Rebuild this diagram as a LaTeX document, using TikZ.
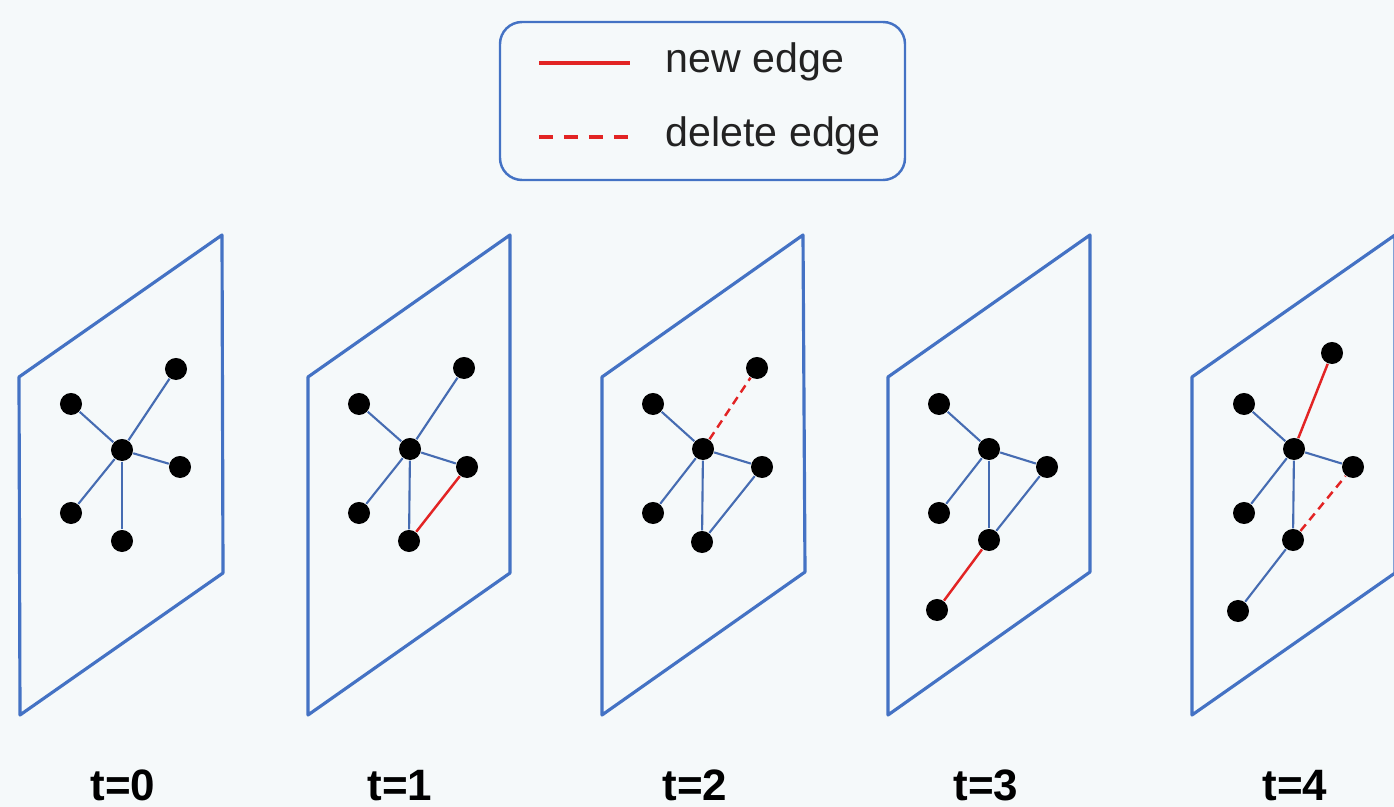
\documentclass[tikz,border=0pt]{standalone}
\usepackage{fontspec}
\setmainfont{Liberation Sans}
\usetikzlibrary{positioning}
\definecolor{hgrund}{RGB}{245,249,250}
\definecolor{ebene}{RGB}{68,114,196}
\definecolor{kante}{RGB}{70,108,178}
\definecolor{rot}{RGB}{226,36,36}
\definecolor{schrift}{RGB}{34,34,34}

\begin{document}
\begin{tikzpicture}[x=0.01cm, y=-0.01cm,
    plane/.style={ebene, line width=0.9pt, line join=round},
    vertex/.style={circle, fill=black, inner sep=0pt, minimum width=0.205cm, minimum height=0.22cm},
    edge/.style={kante, line width=0.6pt},
    newedge/.style={rot, line width=0.7pt},
    deledge/.style={rot, line width=0.7pt, dash pattern=on 2.4pt off 1.6pt},
    tlabel/.style={font=\fontsize{12.5}{15}\selectfont\bfseries, anchor=base, inner sep=0pt},
]

% Hintergrund
\fill[hgrund] (0,0) rectangle (1394,807);
\useasboundingbox (0,0) rectangle (1394,807);
\clip (0,0) rectangle (1394,807);

% Legende
\draw[ebene, line width=0.7pt, rounded corners=0.22cm] (500,22) rectangle (905,180);
\draw[rot, line width=0.9pt] (539,63) -- (630,63);
\draw[rot, line width=0.9pt, dash pattern=on 4pt off 3.1pt] (539,137) -- (630,137);
\node[schrift, anchor=base west, inner sep=0pt, font=\fontsize{11.7}{14}\selectfont] (neu) at (665,73) {new edge};
\node[schrift, anchor=base west, inner sep=0pt, font=\fontsize{11.7}{14}\selectfont] (weg) at (665,147) {delete edge};

% t=0
\begin{scope}[shift={(19,377)}]
\draw[plane] (0,0) -- (203,-142) -- (204,196) -- (1,338) -- cycle;
\node[vertex] (ul0) at (52,27) {};
\node[vertex] (tr0) at (157,-8) {};
\node[vertex] (c0) at (103,73) {};
\node[vertex] (r0) at (161,90) {};
\node[vertex] (ll0) at (52,136) {};
\node[vertex] (b0) at (103,164) {};
\draw[edge] (c0) -- (ul0);
\draw[edge] (c0) -- (tr0);
\draw[edge] (c0) -- (r0);
\draw[edge] (c0) -- (ll0);
\draw[edge] (c0) -- (b0);
\end{scope}

% t=1
\begin{scope}[shift={(308,377)}]
\draw[plane] (0,0) -- (202,-142) -- (202,196) -- (0,338) -- cycle;
\node[vertex] (ul1) at (51,27) {};
\node[vertex] (tr1) at (156,-9) {};
\node[vertex] (c1) at (102,72) {};
\node[vertex] (r1) at (159,90) {};
\node[vertex] (ll1) at (51,136) {};
\node[vertex] (b1) at (101,164) {};
\draw[edge] (c1) -- (ul1);
\draw[edge] (c1) -- (tr1);
\draw[edge] (c1) -- (r1);
\draw[edge] (c1) -- (ll1);
\draw[edge] (c1) -- (b1);
\draw[newedge] (b1) -- (r1);
\end{scope}

% t=2
\begin{scope}[shift={(602,377)}]
\draw[plane] (0,0) -- (201,-142) -- (203,195) -- (0,338) -- cycle;
\node[vertex] (ul2) at (51,27) {};
\node[vertex] (tr2) at (155,-9) {};
\node[vertex] (c2) at (101,72) {};
\node[vertex] (r2) at (160,90) {};
\node[vertex] (ll2) at (51,136) {};
\node[vertex] (b2) at (100,165) {};
\draw[edge] (c2) -- (ul2);
\draw[deledge] (c2) -- (tr2);
\draw[edge] (c2) -- (r2);
\draw[edge] (c2) -- (ll2);
\draw[edge] (c2) -- (b2);
\draw[edge] (b2) -- (r2);
\end{scope}

% t=3
\begin{scope}[shift={(888,377)}]
\draw[plane] (0,0) -- (202,-142) -- (202,195) -- (0,338) -- cycle;
\node[vertex] (ul3) at (51,27) {};
\node[vertex] (c3) at (101,72) {};
\node[vertex] (r3) at (159,90) {};
\node[vertex] (ll3) at (51,136) {};
\node[vertex] (b3) at (101,163) {};
\node[vertex] (bb3) at (49,233) {};
\draw[edge] (c3) -- (ul3);
\draw[edge] (c3) -- (r3);
\draw[edge] (c3) -- (ll3);
\draw[edge] (c3) -- (b3);
\draw[edge] (b3) -- (r3);
\draw[newedge] (b3) -- (bb3);
\end{scope}

% t=4
\begin{scope}[shift={(1192,377)}]
\draw[plane] (0,0) -- (203,-142) -- (203,196) -- (0,338) -- cycle;
\node[vertex] (tp4) at (140,-24) {};
\node[vertex] (ul4) at (52,27) {};
\node[vertex] (c4) at (102,72) {};
\node[vertex] (r4) at (161,90) {};
\node[vertex] (ll4) at (52,136) {};
\node[vertex] (b4) at (101,163) {};
\node[vertex] (bb4) at (46,234) {};
\draw[newedge] (c4) -- (tp4);
\draw[edge] (c4) -- (ul4);
\draw[edge] (c4) -- (r4);
\draw[edge] (c4) -- (ll4);
\draw[edge] (c4) -- (b4);
\draw[deledge] (b4) -- (r4);
\draw[edge] (b4) -- (bb4);
\end{scope}

% Zeitpunkte
\node[tlabel] (t0) at (123,800) {t=0};
\node[tlabel] (t1) at (400,800) {t=1};
\node[tlabel] (t2) at (695,800) {t=2};
\node[tlabel] (t3) at (986,800) {t=3};
\node[tlabel] (t4) at (1295,800) {t=4};

\end{tikzpicture}
\end{document}
